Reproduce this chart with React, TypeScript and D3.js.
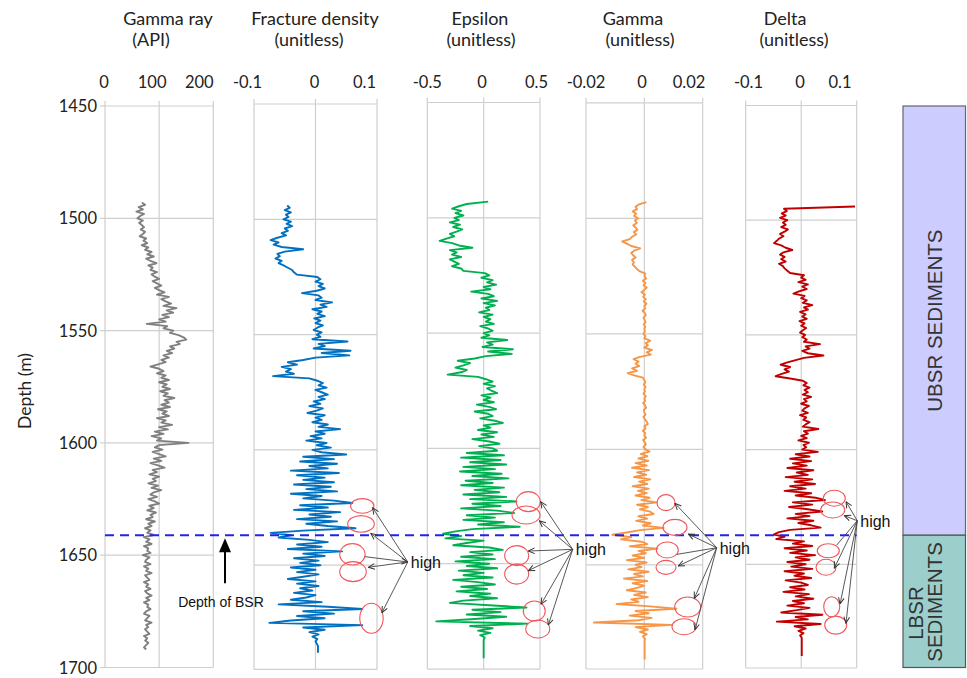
import React from "react";
import * as d3 from "d3";

// ---------------- DATA ----------------
// Gamma ray (API), 1 m samples starting at 1493 m
const GAMMA_RAY_START = 1493;
const gammaRayAPI = [
  68, 74, 62, 70, 58, 72, 65, 60, 70, 63,
  68, 72, 66, 74, 70, 64, 76, 71, 78, 68,
  80, 74, 86, 78, 90, 76, 84, 95, 80, 88,
  84, 96, 86, 92, 100, 88, 96, 104, 92, 100,
  110, 96, 118, 104, 112, 122, 108, 132, 114, 126,
  106, 118, 100, 112, 77, 115, 108, 126, 120, 136,
  145, 150, 132, 138, 120, 128, 114, 124, 108, 118,
  104, 112, 98, 84, 100, 108, 96, 112, 104, 118,
  100, 114, 106, 120, 102, 116, 108, 128, 110, 118,
  104, 120, 98, 114, 106, 118, 96, 112, 104, 124,
  100, 116, 92, 108, 86, 104, 96, 154, 100, 92,
  106, 88, 100, 112, 90, 104, 84, 98, 110, 88,
  96, 82, 100, 88, 94, 80, 98, 86, 104, 90,
  84, 96, 80, 92, 100, 82, 90, 78, 94, 84,
  88, 76, 92, 80, 86, 74, 84, 78, 90, 72,
  82, 76, 86, 72, 80, 78, 84, 70, 82, 76,
  74, 84, 72, 80, 76, 86, 74, 78, 82, 72,
  80, 76, 84, 74, 78, 86, 76, 82, 72, 80,
  78, 84, 76, 72, 82, 78, 74, 86, 76, 80,
  74, 78, 82, 72, 78, 74, 80, 76, 72, 76,
];

// Fracture density (x 0.001), 1 m samples starting at 1494 m
const FRACTURE_START = 1494;
const fractureDensityMilli = [
  -46, -42, -50, -40, -48, -44, -52, -40, -47, -38,
  -50, -45, -55, -48, -62, -73, -60, -68, -55, -20,
  -50, -62, -58, -65, -55, -60, -52, -45, -38, -35,
  -30, 3, 8, 0, 12, 5, 15, 2, -22, 5,
  10, 0, 27, 8, 18, -5, 10, 3, 15, -2,
  8, 0, 12, 3, -3, 10, 2, 8, -5, 52,
  5, 15, -3, 57, 10, 55, 0, -20, -45, -30,
  -55, -40, -48, -35, -69, -10, 3, 12, 5, 18,
  0, 10, 20, 5, 15, -3, 8, -10, 12, 2,
  -13, 15, 0, 10, -5, 20, 5, 40, 0, 15,
  -8, 10, -15, 18, 2, 25, -5, 10, 50, -20,
  30, -25, 35, -10, 20, -40, 38, -30, 15, -20,
  30, -35, 25, -15, 35, -40, 10, -20, 30, 60,
  -25, 20, -35, 40, -10, 25, -30, 35, -15, 20,
  65, -20, -73, -40, -60, -10, 20, -30, 10, -45,
  43, -20, 15, -35, 5, -25, 8, -40, 0, -30,
  5, -20, -45, 0, -30, 5, -25, -5, -35, 0,
  -15, -40, 10, -60, 20, 76, -20, 30, -30, 15,
  -40, -75, 76, -20, 15, -10, 5, -5, 3, 0,
  2, 4, 4, 4, 4,
];

// Epsilon (x 0.01), 1 m samples starting at 1493 m
const EPSILON_START = 1493;
const epsilonCenti = [
  4, -15, -22, -28, -20, -25, -18, -26, -22, -30,
  -21, -27, -19, -24, -30, -26, -33, -39, -28, -22,
  -10, -30, -24, -28, -20, -30, -26, -22, -28, -20,
  -18, 1, 5, -2, 8, 3, 11, 0, 6, -11,
  4, 9, -2, 12, 0, 10, 2, 5, -4, 8,
  0, 6, 2, 9, -3, 4, 8, 0, 5, -2,
  21, 3, 8, -1, 26, 4, 25, 2, -8, -23,
  -12, -18, -25, -15, -20, -32, -5, 2, 8, 0,
  10, 3, 7, 12, -2, 6, 0, 9, -6, 5,
  11, -8, 4, 8, -3, 10, 17, 0, 6, -5,
  12, -2, 9, -10, 5, 14, -4, 8, 12, -15,
  18, -20, 15, -12, 20, -18, 10, -21, 16, -10,
  22, -16, 8, -20, 18, -8, 14, -18, 20, -12,
  29, -10, 15, -20, 12, 27, -15, 10, -18, 18,
  -5, 32, -10, -25, -36, -20, -34, 0, -15, -27,
  5, 17, -12, 8, -20, 10, -25, 5, -15, 12,
  -22, 0, -18, 8, -27, -5, 10, -20, 3, -24,
  6, -12, 12, -18, -30, 5, 38, -10, 15, -15,
  20, -8, -42, 39, -12, 8, -5, 6, -3, 1,
  0, 0, 0, 0, 0, 0, 0, 0, 0,
];

// Gamma (x 0.0001), 1 m samples starting at 1493 m
const GAMMA_START = 1493;
const gammaTenThousandths = [
  7, -19, -30, -25, -40, -28, -35, -22, -32, -26,
  -38, -30, -24, -36, -28, -42, -50, -76, -60, -45,
  -14, -35, -45, -38, -30, -42, -36, -40, -32, -25,
  -15, 3, 0, 6, -5, 4, -3, 8, 0, -10,
  2, -4, 5, -2, 7, 0, 3, -6, 2, 5,
  -3, 1, 4, -2, 3, 0, 2, -3, 4, 0,
  20, 5, 12, 0, 26, 8, 22, -15, -37, -20,
  -30, -18, -42, -25, -57, -35, -5, 0, 3, -2,
  4, 0, 2, -3, 5, 0, 3, -4, 2, 6,
  -2, 0, 4, -3, 2, 8, 12, 0, 4, -5,
  3, 0, 6, -4, 2, 5, -3, 4, 18, -12,
  10, -20, 14, -30, 8, -42, 16, -25, 6, -35,
  20, -18, 10, -40, 15, -22, 8, -30, 18, -10,
  43, -25, 12, -15, 20, 32, -20, 10, -28, 22,
  -5, 66, -15, -60, -110, -45, -80, -10, 10, -50,
  45, -20, 5, -40, 0, -60, 8, -30, -10, -55,
  15, -35, -5, -70, 10, -40, 0, -25, -60, 5,
  -35, 12, -45, -20, -95, 20, 110, -30, 15, -50,
  25, -20, -173, 94, -30, 12, -15, 8, -5, 2,
  1, 1, 1, 1, 1, 1, 1, 1, 1,
];

// Delta (x 0.001), 1 m samples starting at 1494 m
const DELTA_START = 1494;
const deltaMilli = [
  97, -31, -26, -35, -28, -38, -25, -33, -28, -36,
  -24, -30, -38, -32, -40, -44, -49, -36, -28, -16,
  -32, -38, -30, -36, -28, -40, -33, -30, -25, -20,
  5, 0, 8, -5, 12, 2, 10, -4, -14, 6,
  0, 10, 3, 20, 5, 12, -2, 8, 2, 10,
  -3, 6, 0, 9, 3, -2, 7, 2, 10, 5,
  34, 8, 15, 2, 12, 40, 5, -10, -25, -37,
  -20, -30, -22, -35, -46, -20, 3, 10, 4, 15,
  6, 12, 3, 18, 5, 10, 0, 14, 6, 2,
  12, -2, 9, 4, 15, 8, 3, 31, 5, 12,
  0, 10, -5, 14, 4, 9, 2, 30, -10, 15,
  -20, 18, -15, 10, -25, 22, -8, 12, -28, 20,
  -12, 25, -20, 8, -30, 18, -10, 26, 43, -15,
  20, -22, 12, 38, -10, 15, -25, 22, -5, 18,
  35, -20, -40, -49, -30, -45, 5, -15, 20, -30,
  10, -20, 25, -10, 15, -25, 8, -18, 20, -30,
  5, -12, 18, -28, 0, 12, -20, 6, -32, 14,
  -10, 22, -15, 5, -25, 15, -8, -36, 38, -10,
  12, -44, 35, -12, 8, -5, 4, -2, 1, 1,
  1, 1, 1, 1, 1, 1, 1,
];

const depthTicks = [1450, 1500, 1550, 1600, 1650, 1700];
const BSR_DEPTH = 1637;
const zoneLabels = ["UBSR SEDIMENTS", "LBSR", "SEDIMENTS"];

// annotations: ellipse centres and arrow ends in (depth, value)
const fdEllipses = [
  { d: 1624.3, v: 0.076, rx: 11.7, ry: 7.3 },
  { d: 1632.1, v: 0.074, rx: 13.3, ry: 8.3 },
  { d: 1645.3, v: 0.06, rx: 12.7, ry: 10.7 },
  { d: 1652.8, v: 0.061, rx: 13.3, ry: 10 },
  { d: 1673.0, v: 0.091, rx: 11.7, ry: 15 },
];
const fdHub = { d: 1648.6, v: 0.15 };
const fdArrows = [
  { d: 1625.1, v: 0.093, head: "tip" },
  { d: 1636.2, v: 0.09, head: "tip" },
  { d: 1646.3, v: 0.08, head: "hub" },
  { d: 1650.9, v: 0.086, head: "tip" },
  { d: 1670.6, v: 0.108, head: "tip" },
];
const epsEllipses = [
  { d: 1623.1, v: 0.396, rx: 12, ry: 10 },
  { d: 1628.9, v: 0.376, rx: 14, ry: 9 },
  { d: 1646.5, v: 0.293, rx: 12, ry: 10 },
  { d: 1654.5, v: 0.293, rx: 12, ry: 10 },
  { d: 1670.5, v: 0.449, rx: 11, ry: 10 },
  { d: 1678.3, v: 0.48, rx: 12, ry: 9 },
];
const epsHub = { d: 1643.8, v: 0.79 };
const epsArrows = [
  { d: 1623.1, v: 0.506, head: "tip" },
  { d: 1631.4, v: 0.494, head: "tip" },
  { d: 1644.5, v: 0.396, head: "tip" },
  { d: 1653.0, v: 0.396, head: "tip" },
  { d: 1667.6, v: 0.509, head: "tip" },
  { d: 1676.6, v: 0.574, head: "tip" },
];
const gamEllipses = [
  { d: 1623.1, v: 0.00742, rx: 9, ry: 8 },
  { d: 1633.8, v: 0.0105, rx: 12, ry: 8 },
  { d: 1643.6, v: 0.00787, rx: 11, ry: 8 },
  { d: 1651.1, v: 0.00742, rx: 10, ry: 7 },
  { d: 1668.3, v: 0.01486, rx: 13, ry: 10 },
  { d: 1676.8, v: 0.01359, rx: 12, ry: 8 },
];
const gamHub = { d: 1642.6, v: 0.0248 };
const gamArrows = [
  { d: 1623.4, v: 0.0105, head: "tip" },
  { d: 1636.7, v: 0.01506, head: "tip" },
  { d: 1645.5, v: 0.0111, head: "none" },
  { d: 1650.5, v: 0.01164, head: "tip" },
  { d: 1664.5, v: 0.01712, head: "tip" },
  { d: 1678.2, v: 0.01736, head: "tip" },
];
const delEllipses = [
  { d: 1621.2, v: 0.0596, rx: 11, ry: 8 },
  { d: 1626.3, v: 0.0568, rx: 12, ry: 8 },
  { d: 1644.1, v: 0.0488, rx: 11, ry: 7 },
  { d: 1651.3, v: 0.0447, rx: 10, ry: 8 },
  { d: 1668.5, v: 0.055, rx: 8, ry: 10 },
  { d: 1676.5, v: 0.0622, rx: 11, ry: 9 },
];
const delHub = { d: 1631.0, v: 0.101 };
const delArrows = [
  { d: 1622.7, v: 0.0807, head: "tip" },
  { d: 1628.8, v: 0.0777, head: "tip" },
  { d: 1641.6, v: 0.064, head: "none" },
  { d: 1651.7, v: 0.0596, head: "tip" },
  { d: 1667.3, v: 0.07, head: "tip" },
  { d: 1675.7, v: 0.0807, head: "tip" },
];

// ---------------- LAYOUT ----------------
const CAL = "Lato, 'Open Sans', sans-serif";
const ARIAL = "'Liberation Sans', Arial, sans-serif";
const GRID = "#cfcfcf";

type Ann = {
  ellipses: { d: number; v: number; rx: number; ry: number }[];
  hub: { d: number; v: number };
  arrows: { d: number; v: number; head: string }[];
};

type Panel = {
  title: [string, string];
  titleX: [number, number];
  x0: number;
  x1: number;
  domain: [number, number];
  ticks: number[];
  tickText: string[];
  labelDx: number[];
  top: number;
  k: number;
  bottomDepth: number;
  color: string;
  start: number;
  values: number[];
  unit: number;
  ann?: Ann;
};

const PANELS: Panel[] = [
  {
    title: ["Gamma ray", "(API)"], titleX: [168, 151],
    x0: 105, x1: 213.3, domain: [0, 200], ticks: [0, 100, 200], tickText: ["0", "100", "200"],
    labelDx: [-1, -7, -14], top: 106, k: 2.246, bottomDepth: 1700,
    color: "#808080", start: GAMMA_RAY_START, values: gammaRayAPI, unit: 1,
  },
  {
    title: ["Fracture density", "(unitless)"], titleX: [315, 309],
    x0: 254, x1: 377, domain: [-0.1, 0.1], ticks: [-0.1, 0, 0.1], tickText: ["-0.1", "0", "0.1"],
    labelDx: [-6.5, -1, -12.5], top: 104, k: 2.306, bottomDepth: 1695.2,
    color: "#0070c0", start: FRACTURE_START, values: fractureDensityMilli, unit: 0.001,
    ann: { ellipses: fdEllipses, hub: fdHub, arrows: fdArrows },
  },
  {
    title: ["Epsilon", "(unitless)"], titleX: [480, 481],
    x0: 427.3, x1: 540, domain: [-0.5, 0.5], ticks: [-0.5, 0, 0.5], tickText: ["-0.5", "0", "0.5"],
    labelDx: [0, -1.6, -3.5], top: 102.5, k: 2.306, bottomDepth: 1695.7,
    color: "#00b050", start: EPSILON_START, values: epsilonCenti, unit: 0.01,
    ann: { ellipses: epsEllipses, hub: epsHub, arrows: epsArrows },
  },
  {
    title: ["Gamma", "(unitless)"], titleX: [633, 640],
    x0: 586, x1: 702.7, domain: [-0.02, 0.02], ticks: [-0.02, 0, 0.02], tickText: ["-0.02", "0", "0.02"],
    labelDx: [0, -2.3, -13.7], top: 102.8, k: 2.31, bottomDepth: 1695.1,
    color: "#f79646", start: GAMMA_START, values: gammaTenThousandths, unit: 0.0001,
    ann: { ellipses: gamEllipses, hub: gamHub, arrows: gamArrows },
  },
  {
    title: ["Delta", "(unitless)"], titleX: [785, 794],
    x0: 745.7, x1: 856.7, domain: [-0.1, 0.1], ticks: [-0.1, 0, 0.1], tickText: ["-0.1", "0", "0.1"],
    labelDx: [2.8, -1.2, -16.7], top: 105.5, k: 2.294, bottomDepth: 1695.2,
    color: "#c00000", start: DELTA_START, values: deltaMilli, unit: 0.001,
    ann: { ellipses: delEllipses, hub: delHub, arrows: delArrows },
  },
];

function makeScales(p: Panel) {
  const x = d3.scaleLinear().domain(p.domain).range([p.x0, p.x1]);
  const y = d3.scaleLinear().domain([1450, 1700]).range([p.top, p.top + 250 * p.k]);
  return { x, y };
}

export default function App() {
  const scales = PANELS.map(makeScales);
  const bsrY = scales[1].y(BSR_DEPTH);
  const p1 = scales[0];
  const barX0 = 903;
  const barX1 = 965.5;
  const barTop = p1.y(1450);
  const barBottom = p1.y(1700);
  const bsrArrowX = 225;

  return (
    <div style={{ position: "absolute", left: 0, top: 0 }}>
      <svg width={967} height={678} style={{ display: "block", background: "#fff" }}>
        <defs>
          <marker id="openArrow" viewBox="0 0 10 10" refX="9.5" refY="5" markerWidth="7" markerHeight="7"
            markerUnits="userSpaceOnUse" orient="auto">
            <path d="M0.5,1 L9.5,5 L0.5,9" fill="none" stroke="#333" strokeWidth="1.4" />
          </marker>
        </defs>

        {PANELS.map((p, pi) => {
          const { x, y } = scales[pi];
          const yBot = y(p.bottomDepth);
          const yTop = y(1450);
          const line = d3
            .line<number>()
            .x((v) => x(v * p.unit))
            .y((_, i) => y(p.start + i));
          return (
            <g key={pi}>
              {/* titles */}
              <text x={p.titleX[0]} y={24.5} textAnchor="middle" fontFamily={CAL} fontSize={18} fill="#222">
                {p.title[0]}
              </text>
              <text x={p.titleX[1]} y={46} textAnchor="middle" fontFamily={CAL} fontSize={18} fill="#222">
                {p.title[1]}
              </text>
              {/* tick labels */}
              {p.ticks.map((t, ti) => (
                <text key={"tl" + ti} x={x(t) + p.labelDx[ti]} y={87.5} textAnchor="middle"
                  fontFamily={CAL} fontSize={16.5} fill="#222">
                  {p.tickText[ti]}
                </text>
              ))}
              {/* horizontal gridlines */}
              {depthTicks
                .filter((d) => d > 1450 && d < p.bottomDepth)
                .map((d) => (
                  <line key={"hg" + d} x1={p.x0} x2={p.x1} y1={y(d)} y2={y(d)} stroke={GRID} strokeWidth={1.2} />
                ))}
              {/* vertical gridlines and ticks */}
              {p.ticks.map((t, ti) => (
                <line key={"vg" + ti} x1={x(t)} x2={x(t)} y1={yTop - 5} y2={yBot} stroke={GRID} strokeWidth={1.2} />
              ))}
              <line x1={p.x0} x2={p.x1} y1={yTop} y2={yTop} stroke={GRID} strokeWidth={1.2} />
              <line x1={p.x0} x2={p.x1} y1={yBot} y2={yBot} stroke={GRID} strokeWidth={1.2} />
              {/* depth axis on first panel */}
              {pi === 0 &&
                depthTicks.map((d) => (
                  <g key={"dt" + d}>
                    <line x1={p.x0 - 5} x2={p.x0} y1={y(d)} y2={y(d)} stroke={GRID} strokeWidth={1.2} />
                    <text x={97} y={y(d) + 6} textAnchor="end" fontFamily={CAL} fontSize={16.5} fill="#222">
                      {d}
                    </text>
                  </g>
                ))}
              {/* the log */}
              <path d={line(p.values) || ""} fill="none" stroke={p.color} strokeWidth={1.9}
                strokeLinejoin="round" />
            </g>
          );
        })}

        {/* depth label */}
        <text transform="translate(31,391) rotate(-90)" textAnchor="middle" fontFamily={CAL} fontSize={17.5} fill="#222">
          Depth (m)
        </text>

        {/* BSR line */}
        <line x1={PANELS[0].x0} x2={PANELS[4].x1} y1={bsrY} y2={bsrY} stroke="#2323e6" strokeWidth={2}
          strokeDasharray="9 6" />

        {/* BSR arrow */}
        <line x1={bsrArrowX} x2={bsrArrowX} y1={bsrY + 14} y2={bsrY + 48} stroke="#000" strokeWidth={2} />
        <path d={`M${bsrArrowX},${bsrY + 3} L${bsrArrowX - 6},${bsrY + 17} L${bsrArrowX + 6},${bsrY + 17} Z`} fill="#000" />
        <text x={221} y={bsrY + 72} textAnchor="middle" fontFamily={ARIAL} fontSize={14} fill="#111">
          Depth of BSR
        </text>

        {/* annotations */}
        {PANELS.map((p, pi) => {
          if (!p.ann) return null;
          const { x, y } = scales[pi];
          const hx = x(p.ann.hub.v);
          const hy = y(p.ann.hub.d);
          return (
            <g key={"ann" + pi}>
              {p.ann.ellipses.map((e, ei) => (
                <ellipse key={"e" + ei} cx={x(e.v)} cy={y(e.d)} rx={e.rx} ry={e.ry} fill="none"
                  stroke="#f0565a" strokeWidth={1.1} />
              ))}
              {p.ann.arrows.map((a, ai) => {
                const ax = x(a.v);
                const ay = y(a.d);
                if (a.head === "hub")
                  return (
                    <line key={"a" + ai} x1={ax} y1={ay} x2={hx} y2={hy} stroke="#444" strokeWidth={0.9}
                      markerEnd="url(#openArrow)" />
                  );
                return (
                  <line key={"a" + ai} x1={hx} y1={hy} x2={ax} y2={ay} stroke="#444" strokeWidth={0.9}
                    markerEnd={a.head === "tip" ? "url(#openArrow)" : undefined} />
                );
              })}
              <text x={hx + 3} y={hy + 6} fontFamily={ARIAL} fontSize={16} fill="#111">
                high
              </text>
            </g>
          );
        })}

        {/* zone bar */}
        <rect x={barX0} y={barTop} width={barX1 - barX0} height={bsrY - barTop} fill="#ccccff" stroke="#666"
          strokeWidth={1.2} />
        <rect x={barX0} y={bsrY} width={barX1 - barX0} height={barBottom - bsrY} fill="#9ccfcc" stroke="#555"
          strokeWidth={1.2} />
        <text transform={`translate(941.5,${(barTop + bsrY) / 2}) rotate(-90)`} textAnchor="middle"
          fontFamily={ARIAL} fontSize={20.5} fill="#333">
          {zoneLabels[0]}
        </text>
        <text transform={`translate(922.5,613) rotate(-90)`} textAnchor="middle" fontFamily={ARIAL}
          fontSize={20.5} fill="#333">
          {zoneLabels[1]}
        </text>
        <text transform={`translate(941.5,602) rotate(-90)`} textAnchor="middle" fontFamily={ARIAL}
          fontSize={20.5} fill="#333">
          {zoneLabels[2]}
        </text>
      </svg>
    </div>
  );
}
